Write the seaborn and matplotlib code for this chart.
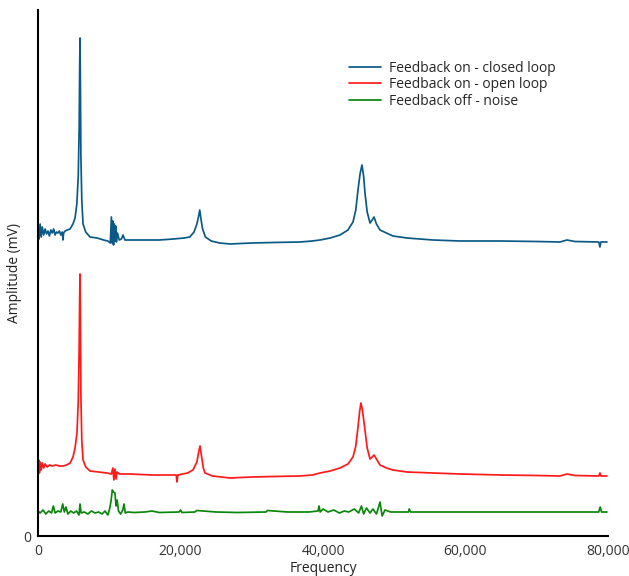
import pandas as pd
import numpy as np
import matplotlib.pyplot as plt
import seaborn as sns

# Spectra (frequency in Hz, amplitude in mV, traces stacked)
closed_freq = [0, 150, 300, 450, 600, 800, 1000, 1200, 1400, 1600, 1800, 2000, 2200, 2400,
               2600, 2800, 3000, 3200, 3400, 3500, 3600, 3800, 4100, 4500, 4900, 5200, 5450,
               5650, 5780, 5850, 5900, 5950, 6020, 6150, 6320, 6700, 7300, 8300, 9200, 9800,
               10150, 10300, 10400, 10500, 10600, 10700, 10800, 10900, 11000, 11150, 11400,
               11700, 11930, 12200, 13000, 15000, 17000, 19000, 20500, 21300, 21900, 22300,
               22550, 22700, 22850, 23100, 23500, 24300, 25500, 26950, 30000, 33000, 36770,
               38500, 39580, 41000, 42390, 43500, 44210, 44600, 44910, 45200, 45470, 45700,
               45890, 46200, 46600, 46900, 47160, 47500, 48000, 48900, 49820, 51790, 55440,
               59230, 64840, 70000, 73260, 74240, 75360, 78700, 78870, 79000, 79860]
closed_amp = [3.04, 2.97, 3.12, 2.99, 3.09, 3.01, 3.07, 3.02, 3.05, 3.00, 3.06, 3.03, 3.07,
              3.01, 3.04, 3.03, 3.05, 3.01, 3.04, 2.96, 3.03, 3.05, 3.06, 3.07, 3.12, 3.18,
              3.32, 3.60, 4.10, 4.70, 4.98, 4.55, 3.80, 3.35, 3.12, 3.04, 2.99, 2.98, 2.96,
              2.95, 2.93, 3.19, 2.93, 3.15, 2.91, 3.12, 2.95, 3.10, 2.94, 3.03, 2.96, 2.97,
              3.01, 2.96, 2.96, 2.96, 2.96, 2.97, 2.98, 2.99, 3.04, 3.12, 3.20, 3.26, 3.18,
              3.07, 2.99, 2.95, 2.93, 2.92, 2.93, 2.935, 2.94, 2.95, 2.96, 2.98, 3.01, 3.06,
              3.14, 3.26, 3.46, 3.62, 3.71, 3.60, 3.43, 3.24, 3.13, 3.16, 3.19, 3.12, 3.06,
              3.03, 3.00, 2.98, 2.96, 2.95, 2.95, 2.945, 2.94, 2.96, 2.945, 2.94, 2.89, 2.94,
              2.94]

open_freq = [0, 100, 200, 300, 450, 600, 800, 1000, 1300, 1600, 2000, 2500, 3000, 3510,
             4000, 4500, 4910, 5200, 5470, 5650, 5780, 5850, 5900, 5950, 6020, 6150, 6320,
             6700, 7300, 8500, 9680, 10300, 10500, 10650, 10800, 10950, 11100, 11400, 12910,
             16000, 19400, 19510, 19620, 21000, 21750, 22300, 22550, 22740, 22950, 23200,
             23440, 24500, 26950, 30000, 33000, 36770, 38500, 39580, 41000, 42390, 43500,
             44210, 44600, 44910, 45150, 45330, 45550, 45890, 46200, 46600, 46900, 47160,
             47500, 48000, 48900, 49820, 51790, 55440, 59230, 65000, 70000, 73260, 74240,
             75360, 78700, 78870, 79000, 79860]
open_amp = [0.71, 0.76, 0.63, 0.74, 0.66, 0.73, 0.68, 0.72, 0.69, 0.71, 0.70, 0.71, 0.70,
            0.70, 0.71, 0.73, 0.79, 0.88, 1.03, 1.35, 1.90, 2.40, 2.62, 2.20, 1.40, 0.95,
            0.76, 0.69, 0.65, 0.64, 0.63, 0.62, 0.68, 0.56, 0.67, 0.57, 0.64, 0.62, 0.62,
            0.61, 0.61, 0.54, 0.61, 0.63, 0.66, 0.74, 0.84, 0.90, 0.80, 0.68, 0.63, 0.60,
            0.58, 0.59, 0.595, 0.60, 0.61, 0.63, 0.65, 0.68, 0.72, 0.79, 0.90, 1.09, 1.25,
            1.33, 1.25, 1.06, 0.88, 0.77, 0.79, 0.81, 0.77, 0.71, 0.68, 0.66, 0.64, 0.63,
            0.62, 0.61, 0.605, 0.60, 0.62, 0.605, 0.60, 0.63, 0.60, 0.60]

noise_freq = [0, 300, 700, 1100, 1500, 1900, 2150, 2400, 2800, 3200, 3470, 3700, 3930, 4200,
              4600, 5000, 5400, 5750, 5900, 6050, 6500, 7000, 7500, 8000, 8500, 9000, 9400,
              9800, 10050, 10250, 10430, 10600, 10800, 10950, 11100, 11300, 11600, 11900,
              12070, 12250, 12600, 13500, 15000, 16000, 17000, 19800, 20000, 20200, 22000,
              22300, 25000, 28000, 32000, 32200, 35000, 38000, 39300, 39440, 39600, 40000,
              40700, 41500, 42300, 43000, 43600, 44400, 45000, 45400, 45700, 46100, 46600,
              47000, 47500, 47800, 48000, 48300, 48700, 49500, 52000, 52100, 52300, 56000,
              62000, 68000, 74000, 78700, 78900, 79100, 79860]
noise_amp = [0.25, 0.23, 0.26, 0.22, 0.25, 0.23, 0.30, 0.23, 0.25, 0.24, 0.32, 0.24, 0.29,
             0.22, 0.25, 0.23, 0.25, 0.21, 0.32, 0.23, 0.24, 0.22, 0.25, 0.23, 0.24, 0.22,
             0.25, 0.21, 0.27, 0.35, 0.46, 0.44, 0.43, 0.30, 0.36, 0.25, 0.22, 0.26, 0.32,
             0.23, 0.24, 0.235, 0.24, 0.25, 0.235, 0.24, 0.26, 0.235, 0.24, 0.255, 0.24,
             0.235, 0.24, 0.255, 0.24, 0.24, 0.25, 0.30, 0.24, 0.27, 0.24, 0.26, 0.23, 0.25,
             0.24, 0.27, 0.23, 0.30, 0.22, 0.28, 0.23, 0.27, 0.22, 0.29, 0.34, 0.20, 0.26,
             0.24, 0.24, 0.27, 0.24, 0.24, 0.24, 0.24, 0.24, 0.24, 0.29, 0.24, 0.24]

labels = ["Feedback on - closed loop", "Feedback on - open loop", "Feedback off - noise"]
colors = ["#0b5a85", "#ff1a1a", "#0a860a"]
x_ticks = [0, 20000, 40000, 60000, 80000]

df = pd.concat([
    pd.DataFrame({"Frequency": closed_freq, "Amplitude": closed_amp, "trace": labels[0]}),
    pd.DataFrame({"Frequency": open_freq, "Amplitude": open_amp, "trace": labels[1]}),
    pd.DataFrame({"Frequency": noise_freq, "Amplitude": noise_amp, "trace": labels[2]}),
])

sns.set_style("white")
plt.rcParams['font.family'] = ['Open Sans', 'DejaVu Sans']

fig = plt.figure(figsize=(6.29, 5.76), dpi=100)
ax = fig.add_axes([38 / 629, 40 / 576, 570 / 629, 526 / 576])

sns.lineplot(data=df, x="Frequency", y="Amplitude", hue="trace", palette=colors,
             linewidth=1.25, estimator=None, ax=ax)

ax.set_xlim(0, 80000)
ax.set_ylim(0, 5.26)
ax.set_xticks(x_ticks)
ax.set_xticklabels([f"{t:,}" for t in x_ticks])
ax.set_yticks([0])
ax.tick_params(axis='x', direction='in', length=4, width=1, colors='black',
               labelcolor='#333333', labelsize=10, pad=6)
ax.tick_params(axis='y', length=0, labelcolor='#333333', labelsize=10, pad=5)
ax.set_xlabel("Frequency", fontsize=10, color='#222222', labelpad=1)
ax.set_ylabel("Amplitude (mV)", fontsize=10, color='#222222')
ax.yaxis.set_label_coords(-0.028, 0.5)

for side in ['top', 'right']:
    ax.spines[side].set_visible(False)
for side in ['left', 'bottom']:
    ax.spines[side].set_color('black')
    ax.spines[side].set_linewidth(1.5)

ax.legend(loc='upper left', bbox_to_anchor=(0.523, 0.927), frameon=False, fontsize=10,
          handlelength=2.3, labelspacing=0.1, handletextpad=0.6)

fig.savefig("out.png", dpi=100)
